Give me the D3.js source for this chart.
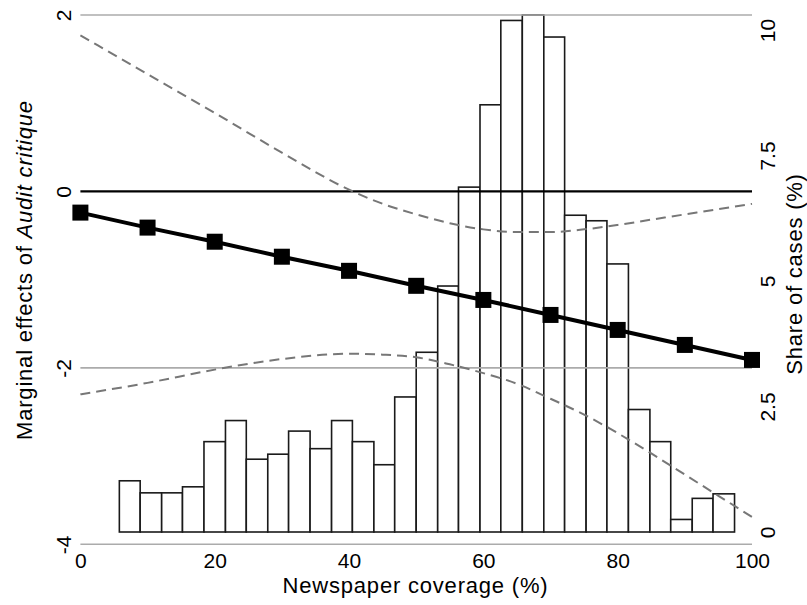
<!DOCTYPE html>
<html>
<head>
<meta charset="utf-8">
<script src="https://cdn.jsdelivr.net/npm/d3@7"></script>
<style>
  body { margin: 0; background: #fff; }
  text { font-family: "Liberation Sans", Arial, Helvetica, sans-serif; fill: #000; }
</style>
</head>
<body>
<svg id="chart" width="807" height="605"></svg>
<script>
// marginal effect at each coverage level
var coverage = [0, 10, 20, 30, 40, 50, 60, 70, 80, 90, 100];
var effect = [-0.24, -0.41, -0.57, -0.74, -0.90, -1.07, -1.23, -1.40, -1.57, -1.74, -1.91];

// confidence interval (dashed)
var ciCoverage = [0, 10, 20, 30, 40, 45, 50, 55, 60, 65, 70, 75, 80, 85, 90, 95, 100];
var ciUpper = [1.77, 1.33, 0.89, 0.44, 0.02, -0.14, -0.26, -0.36, -0.43, -0.46, -0.46, -0.43, -0.38, -0.32, -0.26, -0.20, -0.14];
var ciLower = [-2.30, -2.17, -2.02, -1.90, -1.84, -1.85, -1.88, -1.96, -2.06, -2.18, -2.35, -2.53, -2.74, -2.97, -3.21, -3.45, -3.69];

// histogram of newspaper coverage (share of cases, %)
var binStart = [5.8, 8.9, 12.1, 15.2, 18.4, 21.6, 24.7, 27.9, 31.0, 34.2, 37.4, 40.5, 43.7, 46.8, 50.0,
                53.2, 56.3, 59.5, 62.6, 65.8, 69.0, 72.1, 75.3, 78.4, 81.6, 84.8, 87.9, 91.1, 94.2];
var binEnd = [8.9, 12.1, 15.2, 18.4, 21.6, 24.7, 27.9, 31.0, 34.2, 37.4, 40.5, 43.7, 46.8, 50.0, 53.2,
              56.3, 59.5, 62.6, 65.8, 69.0, 72.1, 75.3, 78.4, 81.6, 84.8, 87.9, 91.1, 94.2, 97.4];
var share = [1.02, 0.78, 0.78, 0.90, 1.80, 2.22, 1.45, 1.55, 2.01, 1.66, 2.22, 1.80, 1.34, 2.69, 3.58,
             4.90, 6.87, 8.51, 10.19, 10.30, 9.86, 6.31, 6.20, 5.34, 2.44, 1.80, 0.25, 0.67, 0.76];

var xTicks = [0, 20, 40, 60, 80, 100];
var yTicks = [-4, -2, 0, 2];
var gridTicks = [-4, -2, 2];
var shareTicks = [0, 2.5, 5, 7.5, 10];

var svg = d3.select("#chart");

var x = d3.scaleLinear().domain([0, 100]).range([80.4, 752]);
var y = d3.scaleLinear().domain([-4, 2]).range([544.3, 15]);
var y2 = d3.scaleLinear().domain([0, 10]).range([532, 30]);

// histogram bars (behind everything)
svg.append("g").selectAll("rect")
  .data(share)
  .enter().append("rect")
    .attr("x", function(d, i) { return x(binStart[i]); })
    .attr("width", function(d, i) { return x(binEnd[i]) - x(binStart[i]); })
    .attr("y", function(d) { return y2(d); })
    .attr("height", function(d) { return y2(0) - y2(d); })
    .attr("fill", "#fff")
    .attr("stroke", "#1a1a1a")
    .attr("stroke-width", 1.6);

// gray grid lines
svg.append("g").selectAll("line")
  .data(gridTicks)
  .enter().append("line")
    .attr("x1", x(0)).attr("x2", x(100))
    .attr("y1", function(d) { return y(d); })
    .attr("y2", function(d) { return y(d); })
    .attr("stroke", "#ababab")
    .attr("stroke-width", 1.6);

// zero line
svg.append("line")
  .attr("x1", x(0)).attr("x2", x(100))
  .attr("y1", y(0)).attr("y2", y(0))
  .attr("stroke", "#000")
  .attr("stroke-width", 2.2);

// CI dashed
var ciLine = d3.line()
  .x(function(d, i) { return x(ciCoverage[i]); })
  .y(function(d) { return y(d); })
  .curve(d3.curveMonotoneX);

[ciUpper, ciLower].forEach(function(s) {
  svg.append("path")
    .attr("d", ciLine(s))
    .attr("fill", "none")
    .attr("stroke", "#777")
    .attr("stroke-width", 2)
    .attr("stroke-dasharray", "10,6");
});

// marginal effect line + square markers
var effLine = d3.line()
  .x(function(d, i) { return x(coverage[i]); })
  .y(function(d) { return y(d); });

svg.append("path")
  .attr("d", effLine(effect))
  .attr("fill", "none")
  .attr("stroke", "#000")
  .attr("stroke-width", 4);

var ms = 16;
svg.append("g").selectAll("rect")
  .data(effect)
  .enter().append("rect")
    .attr("x", function(d, i) { return x(coverage[i]) - ms / 2; })
    .attr("y", function(d) { return y(d) - ms / 2; })
    .attr("width", ms).attr("height", ms)
    .attr("fill", "#000");

// axes (labels only, rotated like the original)
function rotateLabels(g) {
  g.select(".domain").remove();
  g.selectAll(".tick line").remove();
  g.selectAll(".tick text")
    .attr("x", null).attr("y", null).attr("dy", null)
    .attr("text-anchor", "middle")
    .attr("transform", "rotate(-90)");
}

svg.append("g")
  .attr("transform", "translate(71,0)")
  .call(d3.axisLeft(y).tickValues(yTicks).tickSize(0).tickFormat(function(d) { return String(d); }))
  .call(rotateLabels)
  .selectAll("text").style("font-size", "21px");

svg.append("g")
  .attr("transform", "translate(775,0)")
  .call(d3.axisRight(y2).tickValues(shareTicks).tickSize(0).tickFormat(function(d) { return String(d); }))
  .call(rotateLabels)
  .selectAll("text").style("font-size", "21px");

var xAxis = svg.append("g")
  .attr("transform", "translate(0,568)")
  .call(d3.axisBottom(x).tickValues(xTicks).tickSize(0));
xAxis.select(".domain").remove();
xAxis.selectAll("text")
  .attr("y", 0).attr("dy", null)
  .style("font-size", "21px");

// axis titles
svg.append("text")
  .attr("x", 415.5).attr("y", 593)
  .attr("text-anchor", "middle")
  .style("font-size", "22px")
  .style("letter-spacing", "0.8px")
  .text("Newspaper coverage (%)");

var yTitle = svg.append("text")
  .attr("transform", "translate(32,270) rotate(-90)")
  .attr("text-anchor", "middle")
  .style("font-size", "22px")
  .style("letter-spacing", "0.8px");
yTitle.append("tspan").text("Marginal effects of ");
yTitle.append("tspan").style("font-style", "italic").text("Audit critique");

svg.append("text")
  .attr("transform", "translate(802,274) rotate(-90)")
  .attr("text-anchor", "middle")
  .style("font-size", "22px")
  .style("letter-spacing", "0.8px")
  .text("Share of cases (%)");
</script>
</body>
</html>
